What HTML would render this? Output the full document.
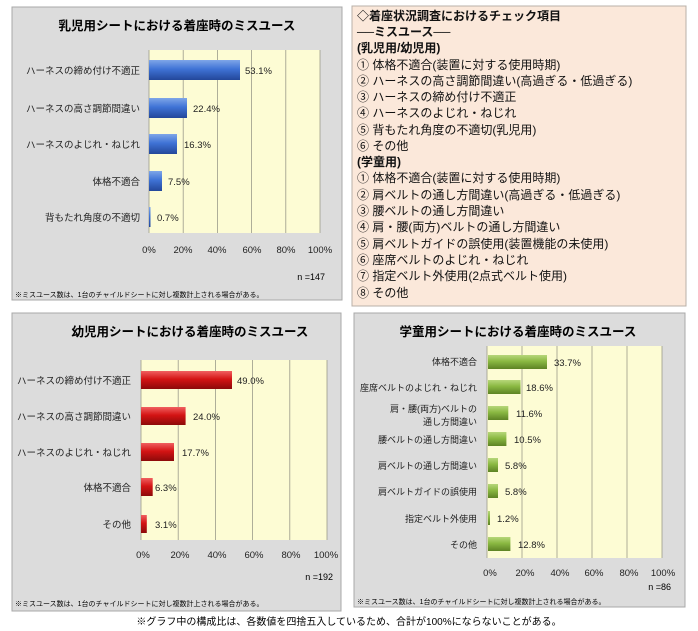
<!DOCTYPE html><html><head><meta charset="utf-8"><style>
body{margin:0;background:#fff;width:698px;height:631px;overflow:hidden}
svg{display:block;font-family:"Liberation Sans","Noto Sans CJK JP",sans-serif}
</style></head><body>
<svg width="698" height="631" viewBox="0 0 698 631" xmlns="http://www.w3.org/2000/svg">
<defs>
<linearGradient id="gb" x1="0" y1="0" x2="0" y2="1"><stop offset="0" stop-color="#7fa6e8"/><stop offset=".45" stop-color="#3f73d6"/><stop offset="1" stop-color="#23479a"/></linearGradient>
<linearGradient id="gr" x1="0" y1="0" x2="0" y2="1"><stop offset="0" stop-color="#f06060"/><stop offset=".45" stop-color="#d41414"/><stop offset="1" stop-color="#8c0a0a"/></linearGradient>
<linearGradient id="gg" x1="0" y1="0" x2="0" y2="1"><stop offset="0" stop-color="#b6d77a"/><stop offset=".45" stop-color="#8ab842"/><stop offset="1" stop-color="#5d8324"/></linearGradient>
</defs>
<!-- Panel 1 -->
<rect x="12" y="7" width="330" height="293" fill="#dcdcdc" stroke="#a8a8a8"/>
<text x="177" y="30" font-size="12.5" font-weight="bold" text-anchor="middle">乳児用シートにおける着座時のミスユース</text>
<rect x="149" y="50" width="171" height="183" fill="#fdfcd4"/>
<g stroke="#9a9a8a" stroke-width="0.8"><line x1="183.2" y1="50" x2="183.2" y2="233"/><line x1="217.4" y1="50" x2="217.4" y2="233"/><line x1="251.6" y1="50" x2="251.6" y2="233"/><line x1="285.8" y1="50" x2="285.8" y2="233"/><line x1="320" y1="50" x2="320" y2="233"/><line x1="149" y1="50" x2="149" y2="233"/></g>
<g fill="url(#gb)"><rect x="149" y="60" width="91" height="20"/><rect x="149" y="98" width="38" height="20"/><rect x="149" y="134" width="28" height="20"/><rect x="149" y="171" width="13" height="20"/><rect x="149" y="207" width="1.5" height="20"/></g>
<g font-size="9.5" fill="#222"><text x="245" y="74">53.1%</text><text x="193" y="112">22.4%</text><text x="184" y="148">16.3%</text><text x="168" y="185">7.5%</text><text x="157" y="221">0.7%</text></g>
<g font-size="9.5" text-anchor="end" fill="#222"><text x="140" y="74">ハーネスの締め付け不適正</text><text x="140" y="112">ハーネスの高さ調節間違い</text><text x="140" y="148">ハーネスのよじれ・ねじれ</text><text x="140" y="185">体格不適合</text><text x="140" y="221">背もたれ角度の不適切</text></g>
<g font-size="9.5" text-anchor="middle" fill="#222"><text x="149" y="253">0%</text><text x="183" y="253">20%</text><text x="217" y="253">40%</text><text x="252" y="253">60%</text><text x="286" y="253">80%</text><text x="320" y="253">100%</text></g>
<text x="325" y="280" font-size="9" text-anchor="end">n =147</text>
<text x="15" y="297" font-size="7">※ミスユース数は、1台のチャイルドシートに対し複数計上される場合がある。</text>
<!-- Panel 2 -->
<rect x="352" y="6" width="334" height="300" fill="#fbe8da" stroke="#b8b0a8"/>
<g font-size="12" fill="#111">
<text x="357" y="20" font-weight="bold">◇着座状況調査におけるチェック項目</text>
<text x="357" y="36" font-weight="bold">──ミスユース──</text>
<text x="357" y="52" font-weight="bold">(乳児用/幼児用)</text>
<text x="357" y="69">①  体格不適合(装置に対する使用時期)</text>
<text x="357" y="85">②  ハーネスの高さ調節間違い(高過ぎる・低過ぎる)</text>
<text x="357" y="101">③  ハーネスの締め付け不適正</text>
<text x="357" y="117">④  ハーネスのよじれ・ねじれ</text>
<text x="357" y="134">⑤  背もたれ角度の不適切(乳児用)</text>
<text x="357" y="150">⑥  その他</text>
<text x="357" y="166" font-weight="bold">(学童用)</text>
<text x="357" y="182">①  体格不適合(装置に対する使用時期)</text>
<text x="357" y="199">②  肩ベルトの通し方間違い(高過ぎる・低過ぎる)</text>
<text x="357" y="215">③  腰ベルトの通し方間違い</text>
<text x="357" y="231">④  肩・腰(両方)ベルトの通し方間違い</text>
<text x="357" y="248">⑤  肩ベルトガイドの誤使用(装置機能の未使用)</text>
<text x="357" y="264">⑥  座席ベルトのよじれ・ねじれ</text>
<text x="357" y="280">⑦  指定ベルト外使用(2点式ベルト使用)</text>
<text x="357" y="297">⑧  その他</text>
</g>
<!-- Panel 3 -->
<rect x="12" y="313" width="329" height="298" fill="#dcdcdc" stroke="#a8a8a8"/>
<text x="190" y="336" font-size="12.5" font-weight="bold" text-anchor="middle">幼児用シートにおける着座時のミスユース</text>
<rect x="141" y="360" width="186" height="180" fill="#fdfcd4"/>
<g stroke="#9a9a8a" stroke-width="0.8"><line x1="141" y1="360" x2="141" y2="540"/><line x1="178.2" y1="360" x2="178.2" y2="540"/><line x1="215.4" y1="360" x2="215.4" y2="540"/><line x1="252.6" y1="360" x2="252.6" y2="540"/><line x1="289.8" y1="360" x2="289.8" y2="540"/><line x1="327" y1="360" x2="327" y2="540"/></g>
<g fill="url(#gr)"><rect x="141" y="371" width="91" height="18"/><rect x="141" y="407" width="44.6" height="18"/><rect x="141" y="443" width="33" height="18"/><rect x="141" y="478" width="11.7" height="18"/><rect x="141" y="515" width="5.8" height="18"/></g>
<g font-size="9.5" fill="#222"><text x="237" y="384">49.0%</text><text x="193" y="420">24.0%</text><text x="182" y="456">17.7%</text><text x="155" y="491">6.3%</text><text x="155" y="528">3.1%</text></g>
<g font-size="9.5" text-anchor="end" fill="#222"><text x="131" y="384">ハーネスの締め付け不適正</text><text x="131" y="420">ハーネスの高さ調節間違い</text><text x="131" y="456">ハーネスのよじれ・ねじれ</text><text x="131" y="491">体格不適合</text><text x="131" y="528">その他</text></g>
<g font-size="9.5" text-anchor="middle" fill="#222"><text x="143" y="558">0%</text><text x="180" y="558">20%</text><text x="217" y="558">40%</text><text x="254" y="558">60%</text><text x="291" y="558">80%</text><text x="326" y="558">100%</text></g>
<text x="333" y="580" font-size="9" text-anchor="end">n =192</text>
<text x="15" y="606" font-size="7">※ミスユース数は、1台のチャイルドシートに対し複数計上される場合がある。</text>
<!-- Panel 4 -->
<rect x="354" y="313" width="331" height="294" fill="#dcdcdc" stroke="#a8a8a8"/>
<text x="518" y="336" font-size="12.5" font-weight="bold" text-anchor="middle">学童用シートにおける着座時のミスユース</text>
<rect x="487" y="346" width="175" height="212" fill="#fdfcd4"/>
<g stroke="#9a9a8a" stroke-width="0.8"><line x1="487" y1="346" x2="487" y2="558"/><line x1="522" y1="346" x2="522" y2="558"/><line x1="557" y1="346" x2="557" y2="558"/><line x1="592" y1="346" x2="592" y2="558"/><line x1="627" y1="346" x2="627" y2="558"/><line x1="662" y1="346" x2="662" y2="558"/></g>
<g fill="url(#gg)"><rect x="488" y="355" width="59" height="14"/><rect x="488" y="380" width="32.5" height="14"/><rect x="488" y="406" width="20.3" height="14"/><rect x="488" y="432" width="18.4" height="14"/><rect x="488" y="458" width="10" height="14"/><rect x="488" y="484" width="10" height="14"/><rect x="488" y="511" width="2" height="14"/><rect x="488" y="537" width="22.4" height="14"/></g>
<g font-size="9.5" fill="#222"><text x="554" y="366">33.7%</text><text x="526" y="391">18.6%</text><text x="516" y="417">11.6%</text><text x="514" y="443">10.5%</text><text x="505" y="469">5.8%</text><text x="505" y="495">5.8%</text><text x="497" y="522">1.2%</text><text x="518" y="548">12.8%</text></g>
<g font-size="9" text-anchor="end" fill="#222"><text x="477" y="365">体格不適合</text><text x="477" y="391">座席ベルトのよじれ・ねじれ</text><text x="477" y="412">肩・腰(両方)ベルトの</text><text x="477" y="425">通し方間違い</text><text x="477" y="443">腰ベルトの通し方間違い</text><text x="477" y="469">肩ベルトの通し方間違い</text><text x="477" y="495">肩ベルトガイドの誤使用</text><text x="477" y="522">指定ベルト外使用</text><text x="477" y="548">その他</text></g>
<g font-size="9.5" text-anchor="middle" fill="#222"><text x="490" y="576">0%</text><text x="525" y="576">20%</text><text x="560" y="576">40%</text><text x="594" y="576">60%</text><text x="629" y="576">80%</text><text x="663" y="576">100%</text></g>
<text x="671" y="590" font-size="9" text-anchor="end">n =86</text>
<text x="357" y="604" font-size="7">※ミスユース数は、1台のチャイルドシートに対し複数計上される場合がある。</text>
<text x="349" y="625" font-size="10" text-anchor="middle">※グラフ中の構成比は、各数値を四捨五入しているため、合計が100%にならないことがある。</text>
</svg>
</body></html>
